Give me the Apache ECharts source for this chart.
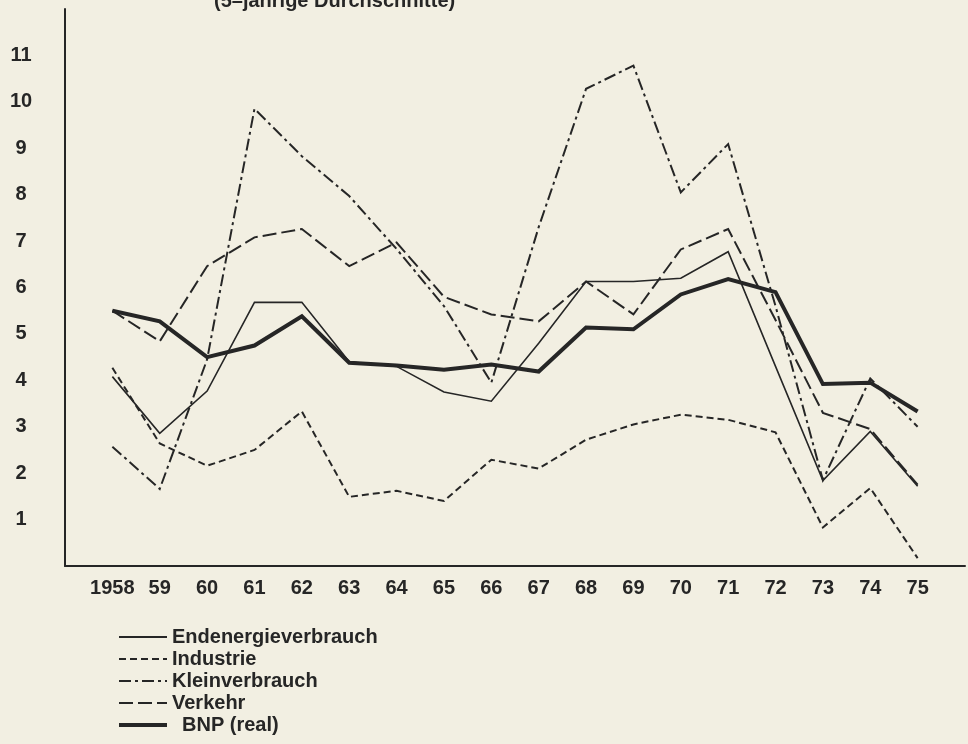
<!DOCTYPE html>
<html>
<head>
<meta charset="utf-8">
<title>Endenergieverbrauch und BNP</title>
<script src="https://cdn.jsdelivr.net/npm/echarts@6/dist/echarts.min.js"></script>
<style>
html, body { margin: 0; padding: 0; background: #f2efe2; }
#chart { width: 968px; height: 744px; }
</style>
</head>
<body>
<div id="chart"></div>
<script>
// Zuwachsraten in %, 5-jaehrige Durchschnitte
const jahre = [1958, 1959, 1960, 1961, 1962, 1963, 1964, 1965, 1966, 1967, 1968, 1969, 1970, 1971, 1972, 1973, 1974, 1975];
const endenergie    = [4.08, 2.86, 3.77, 5.68, 5.68, 4.4, 4.3, 3.75, 3.55, 4.8, 6.13, 6.13, 6.2, 6.77, 4.3, 1.84, 2.9, 1.72];
const industrie     = [4.27, 2.64, 2.16, 2.5, 3.33, 1.49, 1.62, 1.4, 2.29, 2.1, 2.72, 3.05, 3.26, 3.15, 2.88, 0.83, 1.68, 0.17];
const kleinverbrauch = [2.57, 1.66, 4.45, 9.85, 8.83, 7.97, 6.83, 5.6, 3.95, 7.3, 10.28, 10.78, 8.05, 9.09, 5.6, 1.85, 4.04, 3.0];
const verkehr       = [5.5, 4.84, 6.46, 7.08, 7.26, 6.46, 6.97, 5.8, 5.42, 5.27, 6.13, 5.42, 6.82, 7.26, 5.3, 3.3, 2.95, 1.75];
const bnp           = [5.5, 5.27, 4.5, 4.75, 5.38, 4.38, 4.32, 4.23, 4.34, 4.19, 5.14, 5.1, 5.85, 6.18, 5.9, 3.92, 3.95, 3.33];

const ink = '#262626';
const schrift = 'Liberation Sans, Arial, sans-serif';

function paare(werte) {
    return jahre.map((j, i) => [j, werte[i]]);
}

function linie(name, werte, typ, breite) {
    return {
        name: name,
        type: 'line',
        data: paare(werte),
        symbol: 'none',
        silent: true,
        lineStyle: { color: ink, width: breite, type: typ, cap: 'butt', join: 'miter' },
        itemStyle: { color: ink }
    };
}

let myChart = echarts.init(document.getElementById('chart'));
let option = {
    backgroundColor: '#f2efe2',
    animation: false,
    title: {
        text: '(5–jährige Durchschnitte)',
        left: 214,
        top: -9,
        padding: 0,
        textStyle: { color: ink, fontSize: 20, fontWeight: 'bold', fontFamily: schrift }
    },
    grid: { left: 65, right: 3, top: 9, bottom: 178 },
    legend: {
        orient: 'vertical',
        left: 117,
        top: 627,
        padding: 0,
        itemWidth: 48,
        itemHeight: 14,
        itemGap: 2,
        // nur die Linie zeigen, ohne Kreissymbol
        itemStyle: { color: 'rgba(0,0,0,0)', borderWidth: 0, opacity: 0 },
        textStyle: { color: ink, fontSize: 20, fontWeight: 'bold', fontFamily: schrift, lineHeight: 20 },
        data: [
            { name: 'Endenergieverbrauch' },
            { name: 'Industrie' },
            { name: 'Kleinverbrauch' },
            { name: 'Verkehr' },
            { name: 'BNP (real)', lineStyle: { width: 4 }, textStyle: { padding: [0, 0, 0, 10] } }
        ]
    },
    xAxis: {
        type: 'value',
        min: 1957,
        max: 1976,
        interval: 1,
        splitLine: { show: false },
        axisTick: { show: false },
        axisLine: { onZero: false, lineStyle: { color: ink, width: 2 } },
        axisLabel: {
            margin: 12,
            color: ink,
            fontSize: 20,
            fontWeight: 'bold',
            fontFamily: schrift,
            showMinLabel: false,
            showMaxLabel: false,
            formatter: function (v) {
                if (v === 1958) return '1958';
                if (v > 1958 && v <= 1975) return String(v).slice(2);
                return '';
            }
        }
    },
    yAxis: {
        type: 'value',
        min: 0,
        max: 12,
        interval: 1,
        splitLine: { show: false },
        axisTick: { show: false },
        axisLine: { show: true, lineStyle: { color: ink, width: 2 } },
        axisLabel: {
            margin: 44,
            align: 'center',
            color: ink,
            fontSize: 20,
            fontWeight: 'bold',
            fontFamily: schrift,
            formatter: function (v) {
                return (v >= 1 && v <= 11) ? String(v) : '';
            }
        }
    },
    series: [
        linie('Endenergieverbrauch', endenergie, 'solid', 1.6),
        linie('Industrie', industrie, [7, 4], 2),
        linie('Kleinverbrauch', kleinverbrauch, [12, 4, 3, 4], 2),
        linie('Verkehr', verkehr, [14, 5], 2),
        linie('BNP (real)', bnp, 'solid', 4)
    ]
};
myChart.setOption(option);
</script>
</body>
</html>
